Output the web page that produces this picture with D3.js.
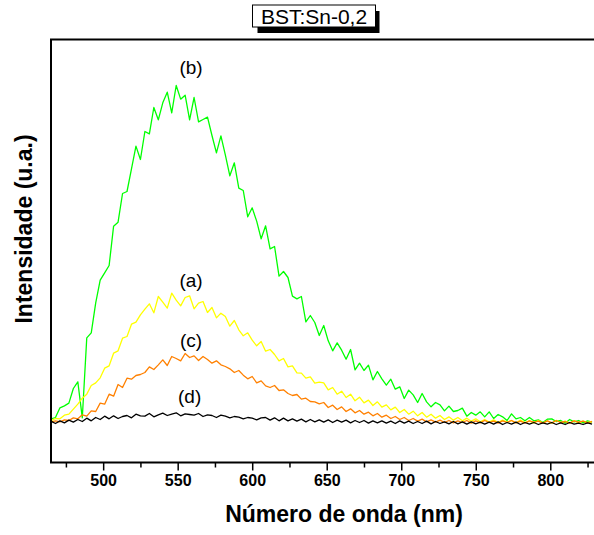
<!DOCTYPE html>
<html>
<head>
<meta charset="utf-8">
<script src="https://cdn.jsdelivr.net/npm/d3@7"></script>
<style>
  body { margin: 0; background: #fff; }
  svg { display: block; font-family: 'Liberation Sans', Arial, sans-serif; }
</style>
</head>
<body>
<div id="chart"></div>
<script>
// wavelength grid (nm) the curves were read at
const wavelengths = [
  465, 468, 471, 474, 477, 480, 483, 486, 489, 492, 495, 498, 501, 504, 507, 510,
  513, 516, 519, 522, 525, 528, 531, 534, 537, 540, 543, 546, 549, 552, 555, 558,
  561, 564, 567, 570, 573, 576, 579, 582, 585, 588, 591, 594, 597, 600, 603, 606,
  609, 612, 615, 618, 621, 624, 627, 630, 633, 636, 639, 642, 645, 648, 651, 654,
  657, 660, 663, 666, 669, 672, 675, 678, 681, 684, 687, 690, 693, 696, 699, 702,
  705, 708, 711, 714, 717, 720, 723, 726, 729, 732, 735, 738, 741, 744, 747, 750,
  753, 756, 759, 762, 765, 768, 771, 774, 777, 780, 783, 786, 789, 792, 795, 798,
  801, 804, 807, 810, 813, 816, 819, 822, 825, 828
]

// (b) green
const curveB = [
  1.2, 1.6, 4.5, 5.1, 5.9, 10.3, 12.3, 1.5, 25.5, 27.0, 36.0, 42.8, 45.0, 47.2, 59.0, 60.2,
  68.8, 69.4, 76.2, 83.0, 79.0, 87.4, 86.7, 94.6, 90.9, 96.0, 99.2, 93.0, 101.2, 97.1, 98.3, 90.9,
  97.6, 90.3, 91.0, 91.7, 86.2, 81.0, 86.1, 80.3, 74.1, 78.0, 70.4, 69.7, 61.8, 64.5, 60.5, 55.2,
  59.1, 52.2, 52.9, 44.0, 45.4, 43.6, 38.0, 37.2, 37.9, 30.3, 32.2, 30.1, 26.2, 29.2, 24.6, 21.6,
  24.0, 21.8, 19.1, 22.0, 15.9, 17.9, 15.7, 17.3, 12.9, 15.4, 13.2, 11.3, 13.1, 10.1, 10.8, 7.3,
  9.8, 8.4, 6.1, 8.8, 6.3, 4.8, 6.1, 5.4, 3.6, 5.0, 3.4, 3.7, 4.4, 2.0, 3.1, 2.3,
  3.3, 1.8, 3.3, 1.3, 2.5, 1.8, 0.7, 2.7, 1.2, 1.6, 0.6, 1.6, 0.6, 0.9, 0.1, 1.1,
  1.2, 0.4, 0.7, -0.1, 1.0, 0.3, 0.7, 0.0, 0.6, 0.2
]

// (a) yellow
const curveA = [
  0.6, 1.3, 1.2, 2.3, 2.6, 4.1, 5.6, 7.4, 8.6, 11.2, 12.0, 13.5, 16.4, 17.1, 20.9, 21.6,
  25.4, 25.9, 29.6, 30.2, 32.4, 34.1, 35.7, 33.0, 37.9, 36.2, 34.4, 38.9, 36.8, 35.1, 37.6, 38.1,
  34.2, 35.9, 36.4, 33.1, 34.6, 31.5, 32.9, 31.9, 29.0, 30.7, 27.9, 26.1, 27.0, 24.8, 23.1, 24.4,
  21.5, 22.0, 20.5, 18.6, 19.3, 16.8, 17.1, 15.0, 14.9, 13.4, 13.8, 11.9, 12.2, 12.0, 9.9, 10.6,
  8.6, 9.5, 7.6, 8.6, 6.6, 7.7, 6.0, 6.8, 5.2, 6.3, 4.7, 5.4, 3.9, 4.7, 3.1, 4.0,
  2.6, 3.5, 2.1, 3.1, 1.7, 2.6, 1.4, 2.2, 1.0, 1.8, 0.8, 1.6, 0.6, 1.4, 0.5, 1.2,
  0.3, 1.0, 0.2, 0.9, 0.1, 0.8, 0.2, 0.7, 0.0, 0.8, 0.1, 0.6, -0.1, 0.7, 0.0, 0.6,
  -0.1, 0.7, 0.1, 0.5, -0.1, 0.6, 0.0, 0.5, 0.1, 0.4
]

// (c) orange
const curveC = [
  0.2, 0.6, 0.3, 0.9, 0.7, 1.5, 1.2, 2.4, 2.0, 3.6, 3.4, 5.9, 5.6, 8.6, 8.0, 11.5,
  10.6, 13.4, 13.1, 14.2, 14.5, 15.1, 16.8, 16.0, 17.4, 18.9, 17.2, 19.9, 19.3, 18.6, 20.8, 19.6,
  20.1, 18.7, 19.9, 19.0, 17.9, 18.6, 17.4, 16.9, 16.2, 15.1, 15.7, 14.3, 13.2, 13.9, 12.0, 12.6,
  11.1, 10.6, 11.2, 9.7, 9.9, 8.8, 8.2, 8.5, 7.1, 7.4, 6.4, 6.3, 5.7, 6.1, 4.6, 5.3,
  4.0, 4.8, 3.4, 4.2, 3.0, 3.7, 2.6, 3.2, 2.1, 2.8, 1.7, 2.3, 1.3, 1.9, 1.0, 1.6,
  0.7, 1.3, 0.5, 1.1, 0.3, 0.9, 0.2, 0.8, 0.1, 0.7, 0.0, 0.6, 0.1, 0.7, -0.1, 0.6,
  0.0, 0.7, 0.1, 0.5, -0.1, 0.6, 0.1, 0.7, 0.0, 0.5, -0.1, 0.6, 0.2, 0.5, -0.1, 0.6,
  0.0, 0.7, 0.1, 0.4, -0.1, 0.6, 0.2, 0.5, 0.0, 0.4
]

// (d) black
const curveD = [
  0.5, -0.2, 0.6, 0.0, 0.8, 0.2, 1.0, 0.4, 1.4, 0.6, 1.6, 1.0, 2.0, 1.2, 2.1, 1.3,
  1.9, 2.2, 1.5, 2.6, 2.1, 2.0, 2.8, 1.8, 2.4, 2.9, 2.2, 2.6, 3.0, 2.1, 2.7, 2.5,
  2.3, 2.8, 1.9, 2.4, 2.2, 1.6, 2.3, 2.0, 1.5, 1.9, 1.7, 1.2, 1.6, 1.4, 0.9, 1.5,
  1.6, 0.8, 1.5, 0.6, 1.4, 0.6, 1.2, 0.5, 1.1, 0.3, 1.0, 0.3, 0.9, 0.2, 0.9, 0.1,
  0.8, 0.2, 0.8, 0.0, 0.7, 0.1, 0.7, -0.1, 0.6, 0.0, 0.6, -0.1, 0.5, -0.2, 0.6, -0.1,
  0.5, -0.2, 0.4, -0.2, 0.5, -0.3, 0.4, -0.2, 0.3, -0.3, 0.4, -0.3, 0.3, -0.4, 0.3, -0.3,
  0.2, -0.4, 0.2, -0.4, 0.3, -0.5, 0.1, -0.4, 0.2, -0.5, 0.1, -0.4, 0.1, -0.5, 0.0, -0.4,
  0.1, -0.5, 0.0, -0.5, 0.1, -0.4, -0.1, -0.5, 0.0, -0.4
]

const majorTicks = [500, 550, 600, 650, 700, 750, 800]
const minorTicks = [475, 525, 575, 625, 675, 725, 775, 825]

const series = [
  { name: '(b)', values: curveB, color: '#00ff00', labelX: 559, labelY: 104.6 },
  { name: '(a)', values: curveA, color: '#ffff00', labelX: 559, labelY: 40.8 },
  { name: '(c)', values: curveC, color: '#ff8000', labelX: 559, labelY: 22.8 },
  { name: '(d)', values: curveD, color: '#000000', labelX: 558, labelY: 5.9 }
]

const margin = { top: 39.5, right: 0, bottom: 72.5, left: 51 }
const width = 544
const height = 535 - margin.top - margin.bottom

const root = d3
  .select('#chart')
  .append('svg')
  .attr('width', 594)
  .attr('height', 535)

const svg = root
  .append('g')
  .attr('transform', 'translate(' + margin.left + ',' + margin.top + ')')

const xPositionScale = d3.scaleLinear().domain([465, 830]).range([0, width])
const yPositionScale = d3.scaleLinear().domain([-11.9, 115]).range([height, 0])

svg
  .append('clipPath')
  .attr('id', 'plot-clip')
  .append('rect')
  .attr('width', width)
  .attr('height', height)

const line = d3
  .line()
  .x((d, i) => xPositionScale(wavelengths[i]))
  .y(d => yPositionScale(d))

svg
  .append('g')
  .attr('clip-path', 'url(#plot-clip)')
  .selectAll('path')
  .data(series)
  .enter()
  .append('path')
  .attr('d', d => line(d.values))
  .attr('fill', 'none')
  .attr('stroke', d => d.color)
  .attr('stroke-width', 1.3)
  .attr('stroke-linejoin', 'round')

svg
  .selectAll('.curve-label')
  .data(series)
  .enter()
  .append('text')
  .attr('class', 'curve-label')
  .text(d => d.name)
  .attr('x', d => xPositionScale(d.labelX))
  .attr('y', d => yPositionScale(d.labelY))
  .attr('text-anchor', 'middle')
  .attr('font-size', 19)
  .attr('fill', '#000')

// x axis, major and minor ticks
const xAxis = d3
  .axisBottom(xPositionScale)
  .tickValues(majorTicks)
  .tickSize(8)
  .tickPadding(4)
  .tickFormat(d3.format('d'))

const xAxisG = svg
  .append('g')
  .attr('class', 'axis x-axis')
  .attr('transform', 'translate(0,' + height + ')')
  .call(xAxis)

xAxisG.select('.domain').remove()
xAxisG.selectAll('.tick line').attr('stroke', '#000').attr('stroke-width', 1.5)
xAxisG
  .selectAll('.tick text')
  .attr('font-size', 16)
  .attr('font-weight', 'bold')
  .attr('fill', '#000')
  .attr('font-family', "'Liberation Sans', Arial, sans-serif")

const xMinor = d3
  .axisBottom(xPositionScale)
  .tickValues(minorTicks)
  .tickSize(5)
  .tickFormat('')

const xMinorG = svg
  .append('g')
  .attr('class', 'axis x-minor')
  .attr('transform', 'translate(0,' + height + ')')
  .call(xMinor)

xMinorG.select('.domain').remove()
xMinorG.selectAll('.tick line').attr('stroke', '#000').attr('stroke-width', 1.5)

// frame: left, top, bottom (right side runs off the picture)
svg
  .append('path')
  .attr('d', 'M' + (width + 5) + ',0H0V' + height + 'H' + (width + 5))
  .attr('fill', 'none')
  .attr('stroke', '#000')
  .attr('stroke-width', 2)

// axis titles
root
  .append('text')
  .text('Número de onda (nm)')
  .attr('x', 344)
  .attr('y', 522)
  .attr('text-anchor', 'middle')
  .attr('font-size', 23)
  .attr('font-weight', 'bold')

root
  .append('text')
  .text('Intensidade (u.a.)')
  .attr('transform', 'translate(32,229) rotate(-90)')
  .attr('text-anchor', 'middle')
  .attr('font-size', 23)
  .attr('font-weight', 'bold')

// title box with drop shadow
const titleG = root.append('g').attr('transform', 'translate(252.5,5)')

titleG
  .append('rect')
  .attr('x', 5)
  .attr('y', 6)
  .attr('width', 122)
  .attr('height', 22)
  .attr('fill', '#000')

titleG
  .append('rect')
  .attr('width', 123)
  .attr('height', 22)
  .attr('fill', '#fff')
  .attr('stroke', '#000')
  .attr('stroke-width', 1)

titleG
  .append('text')
  .text('BST:Sn-0,2')
  .attr('x', 61.5)
  .attr('y', 19.3)
  .attr('text-anchor', 'middle')
  .attr('font-size', 21)
</script>
</body>
</html>
